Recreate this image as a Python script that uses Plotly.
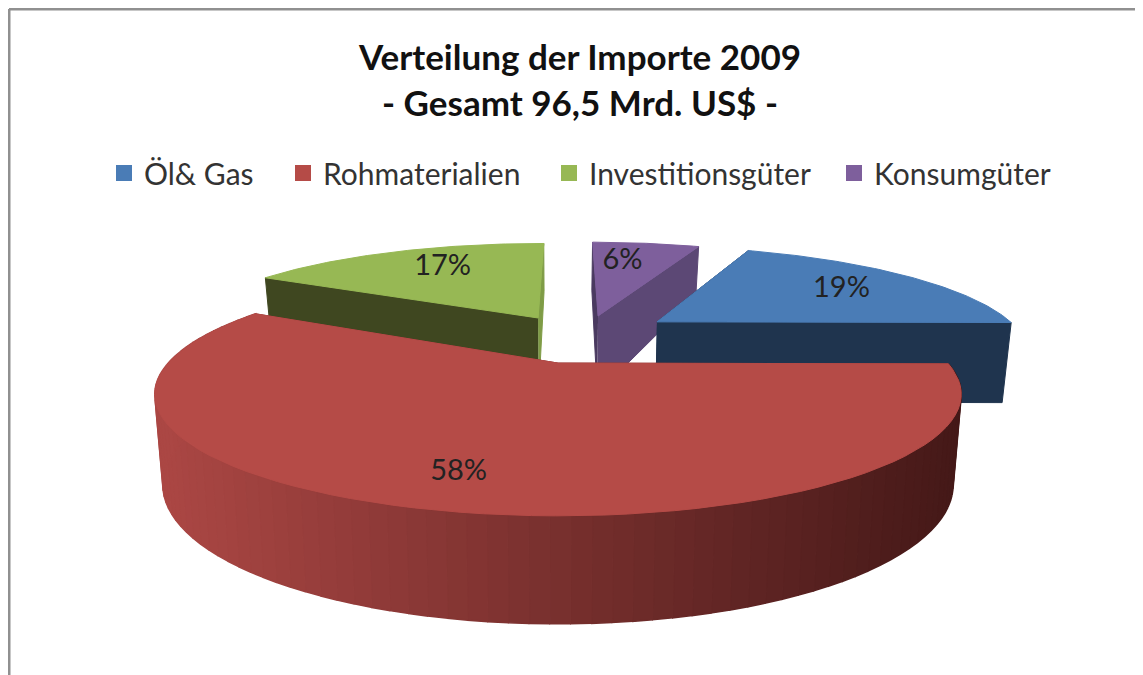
import numpy as np
import plotly.graph_objects as go

categories = ["Öl& Gas", "Rohmaterialien", "Investitionsgüter", "Konsumgüter"]
values = [19, 58, 17, 6]
top_colors = ["#4a7cb6", "#b54b47", "#97b854", "#7e5f9c"]
# colour of the clockwise-first and clockwise-last radial face of each slice
first_face = ["#1f344e", "#7a2f2c", "#3f4720", "#4a3a60"]
last_face = ["#1f344e", "#7a2f2c", "#7f9c46", "#5c4875"]
title_lines = ["Verteilung der Importe 2009", "- Gesamt 96,5 Mrd. US$ -"]

# page pixels of the figure: the page has an 8 px margin
W, H, OFF = 1135, 667, 8
LEGEND_LEFT = [104, 283, 549, 834]

# view of the tilted pie
START = 22.0
CX, CY, R, K, P = 558, 352, 380, 108, 0.25
SHIFT = [(0.28, 0.30), (0.0, -0.10), (-0.057, 0.342), (0.115, 0.364)]
LABEL_R = [0.7, 0.8, 0.7, 0.7]
LABEL_TURN = [1.5, 0, 3, -3]


def top(gu, gv):
    f = 1 / (1 + P * gv)
    return CX + R * gu * f, CY - K * gv * f


def bottom(gu, gv):
    f = 1 / (1 + P * gv)
    depth = np.interp(f, [0.75, 0.93, 1.38], [48, 80, 108])
    return CX + 0.98 * R * gu * f, CY - K * gv * f + depth


def rim(a0, a1, shift, fn, n=80):
    t = np.radians(np.linspace(a0, a1, n))
    return fn(shift[0] + np.sin(t), shift[1] + np.cos(t))


def poly(x, y, color, width=1.0):
    return go.Scatter(x=list(x), y=list(y), mode="lines", fill="toself", fillcolor=color,
                      line=dict(color=color, width=width), showlegend=False, hoverinfo="skip")


def lerp(c0, c1, t):
    a = [int(c0[i:i + 2], 16) for i in (1, 3, 5)]
    b = [int(c1[i:i + 2], 16) for i in (1, 3, 5)]
    return "rgb(%d,%d,%d)" % tuple(a[i] + (b[i] - a[i]) * t for i in range(3))


edges = np.cumsum([0] + values) * 3.6 + START
fig = go.Figure()
labels = []
for i in [2, 3, 0, 1]:
    a0, a1, s = edges[i], edges[i + 1], SHIFT[i]
    apex_t, apex_b = top(*s), bottom(*s)
    # radial faces: the one turned to the viewer goes last
    order = [(a1, last_face[i]), (a0, first_face[i])] if i == 2 else [(a0, first_face[i]), (a1, last_face[i])]
    for a, col in order:
        tx, ty = rim(a, a, s, top, 1)
        bx, by = rim(a, a, s, bottom, 1)
        fig.add_trace(poly([apex_t[0], tx[0], bx[0], apex_b[0]],
                           [apex_t[1], ty[0], by[0], apex_b[1]], col))
    # outer wall, visible only on the large slice
    if i == 1:
        steps = np.linspace(a0, a1, 91)
        for j in range(90):
            tx, ty = rim(steps[j], steps[j + 1], s, top, 5)
            bx, by = rim(steps[j], steps[j + 1], s, bottom, 5)
            t = np.clip((tx.mean() - 165) / 795, 0, 1)
            fig.add_trace(poly(np.r_[tx, bx[::-1]], np.r_[ty, by[::-1]],
                               lerp("#ab4744", "#451918", t), 1.6))
    # top face
    tx, ty = rim(a0, a1, s, top)
    fig.add_trace(poly(np.r_[apex_t[0], tx, apex_t[0]], np.r_[apex_t[1], ty, apex_t[1]], top_colors[i]))
    mid = np.radians((a0 + a1) / 2 + LABEL_TURN[i])
    lx, ly = top(s[0] + LABEL_R[i] * np.sin(mid), s[1] + LABEL_R[i] * np.cos(mid))
    labels.append((lx, ly, f"{values[i]}%"))

fig.add_trace(go.Scatter(x=[l[0] for l in labels], y=[l[1] for l in labels],
                         text=[l[2] for l in labels], mode="text", showlegend=False,
                         hoverinfo="skip", textfont=dict(family="Lato", size=29, color="#222222")))

legends = {}
for n, (name, col, left) in enumerate(zip(categories, top_colors, LEGEND_LEFT)):
    key = "legend" if n == 0 else f"legend{n + 1}"
    fig.add_trace(go.Scatter(x=[None], y=[None], mode="markers", name=name, legend=key,
                             marker=dict(symbol="square", size=18, color=col)))
    legends[key] = dict(orientation="h", x=(left - OFF) / W, xanchor="left", y=1 - 139 / H, yanchor="top",
                        font=dict(family="Lato", size=30, color="#333333"), bgcolor="rgba(0,0,0,0)",
                        itemclick=False, itemdoubleclick=False)

fig.update_layout(
    width=W, height=H, autosize=False,
    margin=dict(l=0, r=0, t=0, b=0),
    paper_bgcolor="white", plot_bgcolor="white",
    xaxis=dict(range=[OFF, OFF + W], visible=False, fixedrange=True),
    yaxis=dict(range=[OFF + H, OFF], visible=False, fixedrange=True),
    title=dict(text="<b>" + "<br>".join(title_lines) + "</b>", x=(580 - OFF) / W, xanchor="center",
               y=1 - 62 / H, yanchor="top", font=dict(family="Lato", size=35, color="#111111")),
    shapes=[dict(type="line", xref="x", yref="y", x0=9, y0=9, x1=OFF + W, y1=9, line=dict(color="#909090", width=3)),
            dict(type="line", xref="x", yref="y", x0=9, y0=9, x1=9, y1=OFF + H, line=dict(color="#909090", width=3))],
    **legends,
)
fig.write_html("out.html")
